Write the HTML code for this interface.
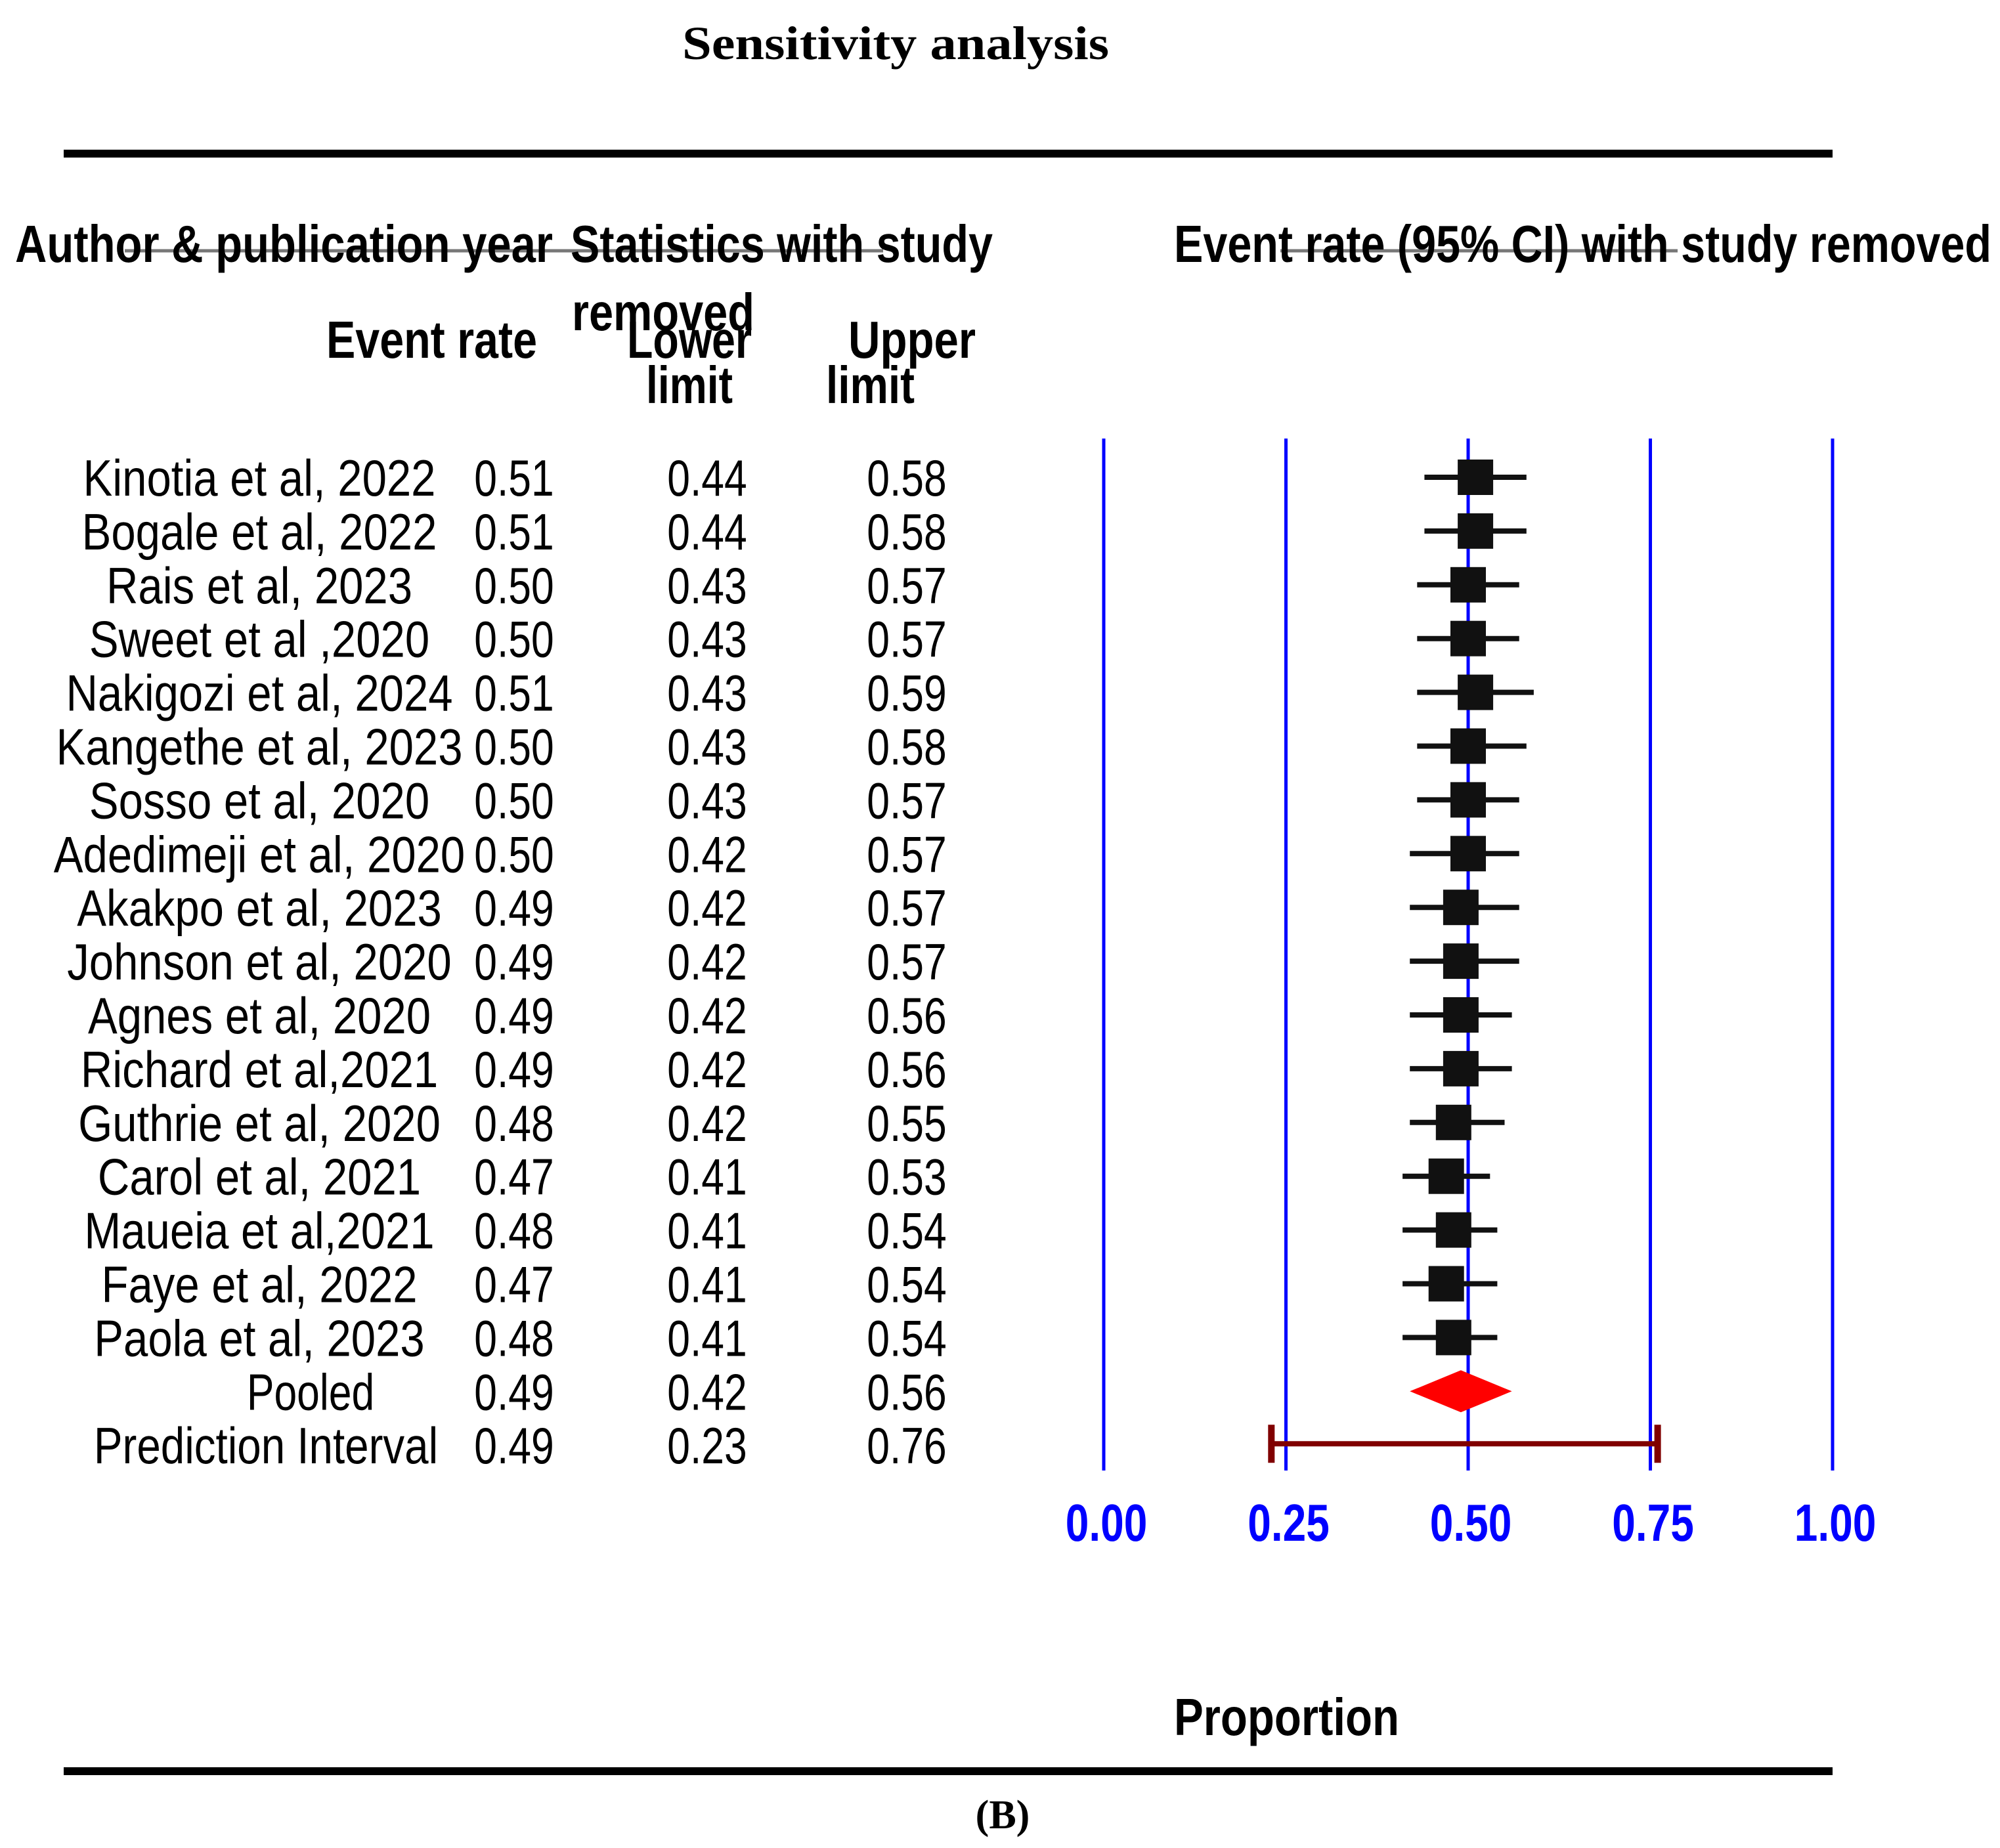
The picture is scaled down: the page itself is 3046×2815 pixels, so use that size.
<!DOCTYPE html>
<html><head><meta charset="utf-8"><style>
html,body{margin:0;padding:0;background:#fff;}
svg{display:block;}
text{font-family:"Liberation Sans",Arial,sans-serif;}
</style></head><body>
<svg id="chart" width="3046" height="2815" viewBox="0 0 3046 2815" xmlns="http://www.w3.org/2000/svg">
<rect width="3046" height="2815" fill="#fff"/>
<text x="1364" y="90" text-anchor="middle" style="font-family:'Liberation Serif',serif" font-weight="bold" font-size="72" textLength="650" lengthAdjust="spacingAndGlyphs">Sensitivity analysis</text>
<rect x="97" y="228" width="2694" height="12" fill="#000"/>
<rect x="97" y="2692" width="2694" height="12" fill="#000"/>
<text x="1527" y="2785" text-anchor="middle" style="font-family:'Liberation Serif',serif" font-weight="bold" font-size="62">(B)</text>

<line x1="190" y1="382" x2="1345" y2="382" stroke="#777" stroke-width="5"/>
<line x1="1950" y1="382" x2="2555" y2="382" stroke="#777" stroke-width="5"/>
<text x="23" y="399" font-weight="bold" font-size="80" textLength="819" lengthAdjust="spacingAndGlyphs">Author &amp; publication year</text>
<text x="869" y="399" font-weight="bold" font-size="80" textLength="643" lengthAdjust="spacingAndGlyphs">Statistics with study</text>
<text x="1788" y="399" font-weight="bold" font-size="80" textLength="1245" lengthAdjust="spacingAndGlyphs">Event rate (95% CI) with study removed</text>
<text x="871" y="503" font-weight="bold" font-size="80" textLength="278" lengthAdjust="spacingAndGlyphs">removed</text>
<text x="497" y="545" font-weight="bold" font-size="80" textLength="321" lengthAdjust="spacingAndGlyphs">Event rate</text>
<text x="955" y="545" font-weight="bold" font-size="80" textLength="190" lengthAdjust="spacingAndGlyphs">Lower</text>
<text x="984" y="614" font-weight="bold" font-size="80" textLength="132" lengthAdjust="spacingAndGlyphs">limit</text>
<text x="1292" y="545" font-weight="bold" font-size="80" textLength="194" lengthAdjust="spacingAndGlyphs">Upper</text>
<text x="1258" y="614" font-weight="bold" font-size="80" textLength="135" lengthAdjust="spacingAndGlyphs">limit</text>
<text x="1788" y="2643" font-weight="bold" font-size="80" textLength="343" lengthAdjust="spacingAndGlyphs">Proportion</text>
<g id="plot"></g>
</svg>
<script>
const studies = ["Kinotia et al, 2022","Bogale et al, 2022","Rais et al, 2023","Sweet et al ,2020","Nakigozi et al, 2024","Kangethe et al, 2023","Sosso et al, 2020","Adedimeji  et al, 2020","Akakpo et al, 2023","Johnson et al, 2020","Agnes et al, 2020","Richard et al,2021","Guthrie et al, 2020","Carol et al, 2021","Maueia et al,2021","Faye et al, 2022","Paola et al, 2023"];
const eventRate = [0.51,0.51,0.50,0.50,0.51,0.50,0.50,0.50,0.49,0.49,0.49,0.49,0.48,0.47,0.48,0.47,0.48];
const lowerLimit = [0.44,0.44,0.43,0.43,0.43,0.43,0.43,0.42,0.42,0.42,0.42,0.42,0.42,0.41,0.41,0.41,0.41];
const upperLimit = [0.58,0.58,0.57,0.57,0.59,0.58,0.57,0.57,0.57,0.57,0.56,0.56,0.55,0.53,0.54,0.54,0.54];
const pooled = [0.49,0.42,0.56];
const prediction = [0.49,0.23,0.76];
const xTicks = [0,0.25,0.5,0.75,1];
const xTickLabels = ["0.00","0.25","0.50","0.75","1.00"];

const NS="http://www.w3.org/2000/svg";
const g=document.getElementById('plot');
const X=v=>1681+v*1110;
const Y=i=>727+i*81.9;
function mk(tag,attrs){const e=document.createElementNS(NS,tag);for(const k in attrs)e.setAttribute(k,attrs[k]);g.appendChild(e);return e;}
function txt(s,x,y,opts){const sx=opts.sx||0.8;const e=mk('text',{transform:`translate(${x},${y}) scale(${sx},1)`,'text-anchor':'middle','font-size':opts.size||78,fill:opts.fill||'#000','font-weight':opts.bold?'bold':'normal'});e.textContent=s;return e;}

xTicks.forEach((t,i)=>{
  const l=mk('line',{x1:X(t),x2:X(t),y1:668,y2:2240,stroke:'#0000ff','stroke-width':5});
  
  
  const tl=txt(xTickLabels[i],X(t)+4,2347,{bold:true,fill:'#0000ff',size:80});
  
  
});

const fmt=v=>v.toFixed(2);
studies.forEach((s,i)=>{
  const y=Y(i);
  const a=txt(s,395,y+28,{sx:0.86});
  
  
  const e=txt(fmt(eventRate[i]),783,y+28,{});
  
  
  const lo=txt(fmt(lowerLimit[i]),1077,y+28,{});
  
  
  const hi=txt(fmt(upperLimit[i]),1381,y+28,{});
  
  
  const w=mk('line',{x1:X(lowerLimit[i]),x2:X(upperLimit[i]),y1:y,y2:y,stroke:'#111','stroke-width':8});
  
  
  const sq=mk('rect',{x:X(eventRate[i])-27,y:y-27,width:54,height:54,fill:'#111'});
  
  
});

const yp=Y(17);
[["Pooled",473],[fmt(pooled[0]),783],[fmt(pooled[1]),1077],[fmt(pooled[2]),1381]].forEach(([s,x])=>{
  const t=txt(s,x,yp+28,{});
  
  
});
const d=mk('polygon',{points:`${X(pooled[1])},${yp} ${X(pooled[0])},${yp-32} ${X(pooled[2])},${yp} ${X(pooled[0])},${yp+32}`,fill:'#ff0000'});



const yq=Y(18)-2;
[["Prediction  Interval",405],[fmt(prediction[0]),783],[fmt(prediction[1]),1077],[fmt(prediction[2]),1381]].forEach(([s,x])=>{
  const t=txt(s,x,yq+30,{sx:s.length>5?0.84:0.8});
  
  
});
const pl=mk('line',{x1:X(prediction[1]),x2:X(prediction[2]),y1:yq,y2:yq,stroke:'#800000','stroke-width':8});


[prediction[1],prediction[2]].forEach(v=>{
  const c=mk('line',{x1:X(v),x2:X(v),y1:yq-29,y2:yq+29,stroke:'#800000','stroke-width':10});
  
  
});
</script>
</body></html>
